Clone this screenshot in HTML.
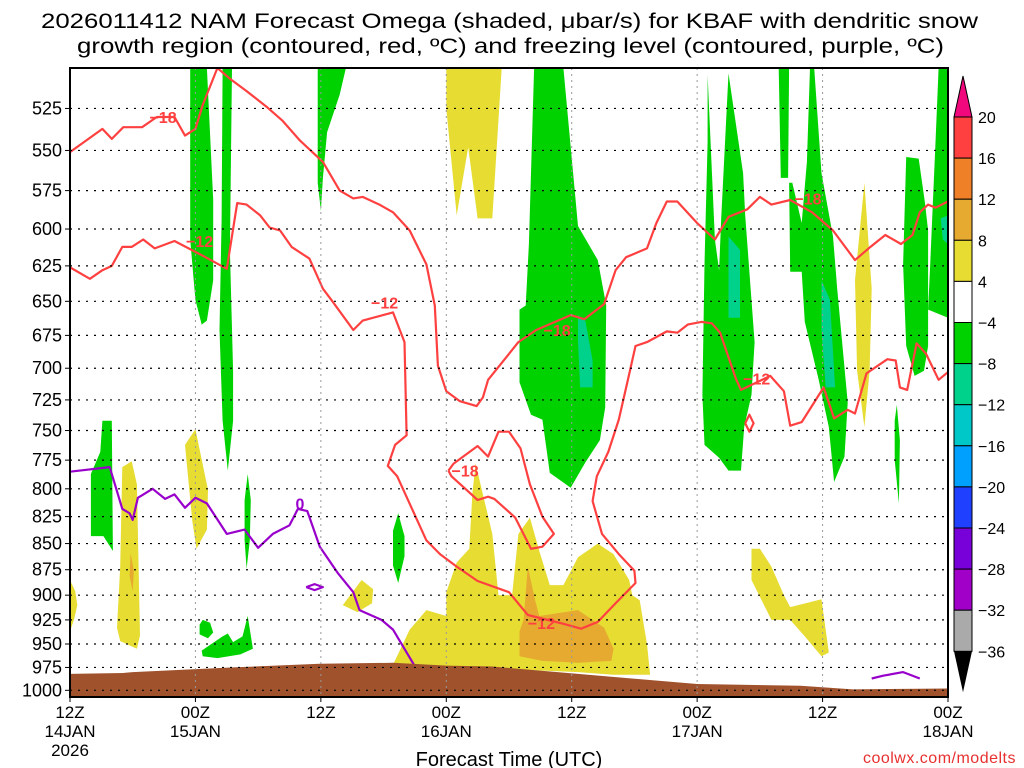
<!DOCTYPE html>
<html><head><meta charset="utf-8"><style>
html,body{margin:0;padding:0;background:#fff;}
svg{display:block;font-family:"Liberation Sans",sans-serif;}
</style></head><body>
<svg id="chart" width="1024" height="768" viewBox="0 0 1024 768" xmlns="http://www.w3.org/2000/svg">
<defs><clipPath id="plotclip"><rect x="70" y="68" width="878" height="629"/></clipPath></defs>
<rect x="0" y="0" width="1024" height="768" fill="#fff"/>
<text x="41" y="28" font-size="21" textLength="937" lengthAdjust="spacingAndGlyphs">2026011412 NAM Forecast Omega (shaded, μbar/s) for KBAF with dendritic snow</text>
<text x="77" y="53" font-size="21" textLength="867" lengthAdjust="spacingAndGlyphs">growth region (contoured, red, ºC) and freezing level (contoured, purple, ºC)</text>
<g id="shading" clip-path="url(#plotclip)"></g>
<g id="terrain" clip-path="url(#plotclip)"></g>
<g id="grid"></g>
<g id="contours" clip-path="url(#plotclip)"></g>
<rect x="70" y="68" width="878" height="629" fill="none" stroke="#000" stroke-width="2"/>
<g id="axes"></g>
<g id="colorbar"></g>
<text x="509" y="766" font-size="20" text-anchor="middle">Forecast Time (UTC)</text>
<text x="1016" y="763" font-size="16" text-anchor="end" fill="#e83030" letter-spacing="0.5">coolwx.com/modelts</text>
</svg>
<script>
// ---- axis data ----
const pressureTicks = [525,550,575,600,625,650,675,700,725,750,775,800,825,850,875,900,925,950,975,1000];
const timeTicks = [0,12,24,36,48,60,72,84];
const timeLabels1 = ["12Z","00Z","12Z","00Z","12Z","00Z","12Z","00Z"];
const timeLabels2 = ["14JAN","15JAN","","16JAN","","17JAN","","18JAN"];
const timeLabels3 = ["2026","","","","","","",""];
const colorLevels = ["20","16","12","8","4","−4","−8","−12","−16","−20","−24","−28","−32","−36"];
const colorFills = ["#ff4040","#f08028","#e6aa30","#e6dc32","#ffffff","#00d200","#00d28c","#00c8c8","#00a0ff","#2040ff","#7800d8","#a000c8","#aaaaaa"];

// ---- series data: [forecast hour, pressure hPa] ----
const terrainTop = [[0,982],[5.1,981],[6,980],[11.8,977],[15.6,975],[23.9,971],[30.9,970],[36,973],[40.4,974],[48.6,982],[60,993],[69.9,995],[74.9,999],[84,998]];
const isoMinus18Upper = [[0,551],[3.1,537],[4,543],[5.1,536],[6.9,536],[8.3,530],[10,530],[11,541],[12,537],[12.7,523],[14.1,502],[15.3,508],[16.9,515],[18.8,524],[20.3,532],[22,544],[24.2,557],[25.8,575],[27.1,580],[28,579],[29.6,584],[30.9,589],[32.5,601],[34.1,624],[34.9,653],[35.2,698],[36,718],[37.3,726],[38.9,730],[39.5,723],[40,709],[42.1,688],[42.9,680],[44.6,671],[47.9,660],[49.2,663],[51.1,652],[52.2,628],[53.2,619],[55.2,613],[56.1,596],[57.1,582],[58.1,582],[60,596],[61.7,607],[63,592],[64.8,587],[66,579],[67.1,584],[68.9,581],[71,589],[73,601],[75.1,621],[76.4,613],[78,604],[79.5,610],[80.6,604],[81.3,589],[82.1,584],[82.8,586],[84,582]];
const isoMinus12 = [[0,626],[1.9,634],[3.1,628],[4,625],[5,612],[5.9,612],[7,607],[8.1,613],[10,608],[12.7,618],[15,627],[16,583],[16.9,584],[18.2,591],[19.1,599],[20.1,601],[21.2,612],[22.9,620],[24.2,641],[25.1,650],[27.1,671],[28,664],[30.9,658],[32,680],[32.2,754],[31.1,762],[30.4,780],[31.3,789],[34.1,847],[35.4,860],[37,872],[39,886],[42,897],[43.8,920],[47.2,929],[48.9,934],[50.5,927],[52.2,908],[54.1,888],[54,876],[52.5,860],[50.9,841],[50,811],[50.4,789],[51.5,768],[52.5,741],[53.4,708],[54.1,683],[55.2,680],[57.1,672],[58.1,673],[59.1,667],[60.4,665],[61.4,666],[62.2,673],[63.7,708],[64.2,717],[67,706],[68.3,718],[68.9,746],[70,743],[71.2,727],[72.1,715],[73.1,740],[74.4,733],[75.1,736],[76.2,704],[78.2,693],[79,694],[79.4,715],[80.1,717],[81,681],[81.9,689],[83.1,709],[84,703]];
const isoMinus12Loop = [[64.6,744],[65,737],[65.4,744],[65,751],[64.6,744]];
const isoMinus18Lower = [[36.2,784],[36.7,778],[39,763],[40,772],[41,751],[42,751],[43.1,765],[44,796],[45.2,825],[46.3,841],[45.2,853],[44.1,855],[42.6,826],[40.6,809],[40,807],[39,810],[37.7,799],[36.5,789],[36.2,784]];
const freezingLevel = [[0,785],[3.8,781],[5,818],[5.7,822],[6,828],[6.5,808],[7.9,800],[9.1,809],[10,805],[11,817],[12,808],[13.1,813],[15,841],[16.7,837],[18,854],[19.4,841],[21,833],[21.8,818],[22.7,820],[23.9,853],[25.6,878],[27.1,897],[27.7,915],[29.8,925],[30.9,935],[32.8,970],[33.5,984]];
const freezingLoop = [[22.6,892],[23.4,889],[24.2,892],[23.4,895],[22.6,892]];
const freezingRight = [[76.7,987],[77.8,984],[79.7,980],[81.3,987]];
const contourLabels = [["−18",8.9,530,"#ff4040"],["−12",12.4,608,"#ff4040"],["−12",30.1,651,"#ff4040"],["−18",46.6,671,"#ff4040"],["−18",70.6,580,"#ff4040"],["−18",37.8,784,"#ff4040"],["−12",45.1,928,"#ff4040"],["−12",65.7,708,"#ff4040"],["0",22.0,813,"#9900cc"]];

const greenAreas = [
 [[11.5,502],[13.1,502],[13.7,581],[13.7,635],[13.1,664],[12.6,667],[12,649],[11.5,607]],
 [[14.6,502],[15.5,502],[15.3,614],[15.6,702],[15.6,742],[15.1,784],[14.6,742],[14.3,671],[14.5,594]],
 [[23.7,502],[26.4,502],[25.8,517],[24.6,539],[24.2,567],[24,588],[23.7,570]],
 [[3.1,742],[4,742],[4.1,857],[3.2,843],[2,843],[2,787],[2.9,768]],
 [[17,787],[17.3,810],[17.2,847],[16.9,874],[16.7,847],[16.7,810]],
 [[31.4,822],[32,843],[32,862],[31.4,888],[30.9,871],[30.9,838]],
 [[12.6,957],[13.4,951],[14.6,942],[15.1,939],[15.6,948],[16.5,942],[17,921],[17.5,955],[16.3,961],[14.1,965],[12.7,963]],
 [[12.7,925],[13.4,928],[13.7,938],[13.2,944],[12.4,940],[12.4,930]],
 [[44.4,502],[47.2,502],[48.6,598],[50.5,621],[51.3,653],[51.2,731],[50.7,758],[49.3,777],[47.9,799],[45.9,786],[45.2,741],[44.1,737],[43,711],[43,656],[43.6,653],[43.9,610]],
 [[61,506],[61.7,607],[62.1,628],[62.3,593],[63,505],[64.4,564],[64.6,591],[65.5,680],[65.2,721],[64.5,747],[64.2,784],[63,784],[62.1,773],[60.7,762],[60.5,721],[60.7,624],[61,545]],
 [[67.8,502],[68.8,502],[68.7,567],[68,567]],
 [[70.8,502],[71.2,502],[71.9,564],[73,605],[73.4,641],[74.4,727],[74.1,772],[73.1,794],[72.6,747],[71.6,708],[70.3,665],[70,629],[68.9,629],[68.8,570],[69.1,570],[70,596],[70.5,557]],
 [[79.1,729],[79.4,758],[79.3,813],[78.9,775],[78.9,742]],
 [[80,554],[81.2,555],[81.8,583],[82.1,601],[82.1,683],[81.7,702],[80.8,706],[80,683],[79.7,624]],
 [[83.1,502],[84,502],[84,662],[82.1,656],[82.3,624],[82.8,545]]
];
const tealAreas = [
 [[48.6,660],[49.3,664],[50,694],[50,715],[48.8,715],[48.6,679]],
 [[63,605],[64.1,614],[64.1,662],[63,662]],
 [[71.9,635],[72.7,649],[73.2,715],[72.3,715],[71.9,671]],
 [[83.3,593],[84,591],[84,610],[83.5,607]]
];
const yellowAreas = [
 [[0,885],[0.5,896],[0.7,910],[0.4,924],[0,937]],
 [[5,781],[5.9,776],[6.4,796],[6.7,941],[6.4,955],[4.8,947],[4.5,933],[4.8,872]],
 [[11,762],[12,749],[13.2,801],[13.1,837],[12.1,855],[11.7,829],[11.2,781]],
 [[26.1,910],[27.9,885],[29,894],[28.9,908],[27.5,917]],
 [[36,502],[41.3,502],[40.4,593],[39,593],[38.1,548],[37,591],[36,525]],
 [[30.9,972],[32.5,935],[34.1,915],[36,921],[36,897],[37,868],[38.2,855],[38.5,804],[38.8,778],[40.4,841],[41,900],[42.3,900],[42.9,841],[44,826],[44.9,857],[45.9,890],[47.2,890],[48.6,863],[50.5,850],[52,860],[53.5,885],[53.8,900],[54.5,905],[55.2,950],[55.5,983],[52,983],[48.6,980],[40.4,976],[36,975]],
 [[65.2,855],[66,855],[67.1,872],[68.3,900],[68.9,912],[71.9,904],[72.6,959],[71.9,963],[70.3,942],[68.9,925],[67.1,925],[65.2,885]],
 [[76,570],[76.7,641],[76.5,702],[76,747],[75.3,702],[75.1,635]]
];
const orangeAreas = [
 [[5.8,859],[6.1,876],[6,896],[5.7,881]],
 [[43.8,872],[44.5,905],[44.9,921],[48.6,915],[51.1,933],[52,955],[51.8,968],[48.6,970],[45.2,968],[43,963],[43,937],[43.4,925]]
];

// ---- axis functions ----
const X0=70, X1=948, Y0=68, Y1=697;
function xOf(h){ return X0 + h*(X1-X0)/84; }
function yOf(p){ return Y0 + 903*Math.log(p/502); }
const NS="http://www.w3.org/2000/svg";
function mk(tag, parent){ const e=document.createElementNS(NS,tag); parent.appendChild(e); return e; }
function pts(arr){ return arr.map(d=>xOf(d[0]).toFixed(1)+","+yOf(d[1]).toFixed(1)).join(" "); }

const gShade=document.getElementById("shading");
function fillAreas(list, color, name){
  list.forEach(a=>{
    const e=mk("polygon",gShade);
    
    
    e.setAttribute("points",pts(a)); e.setAttribute("fill",color);
  });
}
fillAreas(yellowAreas,"#e6dc32","omega-area-4-8");
fillAreas(orangeAreas,"#e6aa30","omega-area-8-12");
fillAreas(greenAreas,"#00d200","omega-area-minus8-minus4");
fillAreas(tealAreas,"#00d28c","omega-area-minus12-minus8");

// terrain
const gTer=document.getElementById("terrain");
const ter=mk("polygon",gTer);


ter.setAttribute("points", pts(terrainTop)+" "+xOf(84)+","+(Y1+5)+" "+xOf(0)+","+(Y1+5));
ter.setAttribute("fill","#a0522d");

// grid
const gGrid=document.getElementById("grid");
pressureTicks.forEach(p=>{
  const l=mk("line",gGrid);
  
  
  l.setAttribute("x1",X0); l.setAttribute("x2",X1); l.setAttribute("y1",yOf(p)); l.setAttribute("y2",yOf(p));
  l.setAttribute("stroke","#000"); l.setAttribute("stroke-width","1.2"); l.setAttribute("stroke-dasharray","2 6");
});
timeTicks.forEach(h=>{
  const l=mk("line",gGrid);
  
  
  l.setAttribute("x1",xOf(h)); l.setAttribute("x2",xOf(h)); l.setAttribute("y1",Y0); l.setAttribute("y2",Y1);
  l.setAttribute("stroke","#999"); l.setAttribute("stroke-width","1"); l.setAttribute("stroke-dasharray","2 4");
});

// contours
const gC=document.getElementById("contours");
function line(arr,color,name,w){
  const e=mk("polyline",gC);
  
  
  e.setAttribute("points",pts(arr)); e.setAttribute("fill","none");
  e.setAttribute("stroke",color); e.setAttribute("stroke-width",w); e.setAttribute("stroke-linejoin","round");
}
line(isoMinus18Upper,"#ff4040","isotherm-minus18-upper",2.2);
line(isoMinus12,"#ff4040","isotherm-minus12",2.2);
line(isoMinus12Loop,"#ff4040","isotherm-minus12-loop",2.2);
line(isoMinus18Lower,"#ff4040","isotherm-minus18-lower",2.2);
line(freezingLevel,"#9900cc","freezing-level-line",2.2);
line(freezingLoop,"#9900cc","freezing-level-loop",2.2);
line(freezingRight,"#9900cc","freezing-level-right",2.2);
contourLabels.forEach(c=>{
  const t=mk("text",gC);
  
  
  t.setAttribute("x",xOf(c[1])); t.setAttribute("y",yOf(c[2])+6);
  t.setAttribute("text-anchor","middle"); t.setAttribute("font-size","16"); t.setAttribute("font-weight","bold");
  t.setAttribute("fill",c[3]); t.textContent=c[0];
});
gTer.parentNode.insertBefore(gC, gTer);

// axes
const gA=document.getElementById("axes");
pressureTicks.forEach(p=>{
  const t=mk("text",gA);
  
  
  t.setAttribute("x",62); t.setAttribute("y",yOf(p)+6); t.setAttribute("text-anchor","end"); t.setAttribute("font-size","18");
  t.textContent=p;
  const k=mk("line",gA);
  
  
  k.setAttribute("x1",65); k.setAttribute("x2",70); k.setAttribute("y1",yOf(p)); k.setAttribute("y2",yOf(p)); k.setAttribute("stroke","#000");
});
timeTicks.forEach((h,i)=>{
  const k=mk("line",gA);
  
  
  k.setAttribute("x1",xOf(h)); k.setAttribute("x2",xOf(h)); k.setAttribute("y1",Y1); k.setAttribute("y2",Y1+5); k.setAttribute("stroke","#000");
  [[timeLabels1[i],718],[timeLabels2[i],737],[timeLabels3[i],756]].forEach(L=>{
    if(!L[0]) return;
    const t=mk("text",gA);
    
    
    t.setAttribute("x",xOf(h)); t.setAttribute("y",L[1]); t.setAttribute("text-anchor","middle"); t.setAttribute("font-size","17");
    t.textContent=L[0];
  });
});

// colorbar
const gB=document.getElementById("colorbar");
const cbX=954, cbW=18, cbTop=117, cbStep=41.1;
const tri=mk("polygon",gB);


tri.setAttribute("points",`${cbX},${cbTop} ${cbX+cbW},${cbTop} ${cbX+cbW/2},${cbTop-41}`);
tri.setAttribute("fill","#f0087c"); tri.setAttribute("stroke","#000");
colorFills.forEach((c,i)=>{
  const r=mk("rect",gB);
  
  
  r.setAttribute("x",cbX); r.setAttribute("y",cbTop+i*cbStep); r.setAttribute("width",cbW); r.setAttribute("height",cbStep);
  r.setAttribute("fill",c); r.setAttribute("stroke","#000"); r.setAttribute("stroke-width","1");
});
const bot=cbTop+colorFills.length*cbStep;
const tri2=mk("polygon",gB);


tri2.setAttribute("points",`${cbX},${bot} ${cbX+cbW},${bot} ${cbX+cbW/2},${bot+41}`);
tri2.setAttribute("fill","#000");
colorLevels.forEach((s,i)=>{
  const t=mk("text",gB);
  
  
  t.setAttribute("x",978); t.setAttribute("y",cbTop+i*cbStep+6); t.setAttribute("font-size","16");
  t.textContent=s;
});
</script>
</body></html>
